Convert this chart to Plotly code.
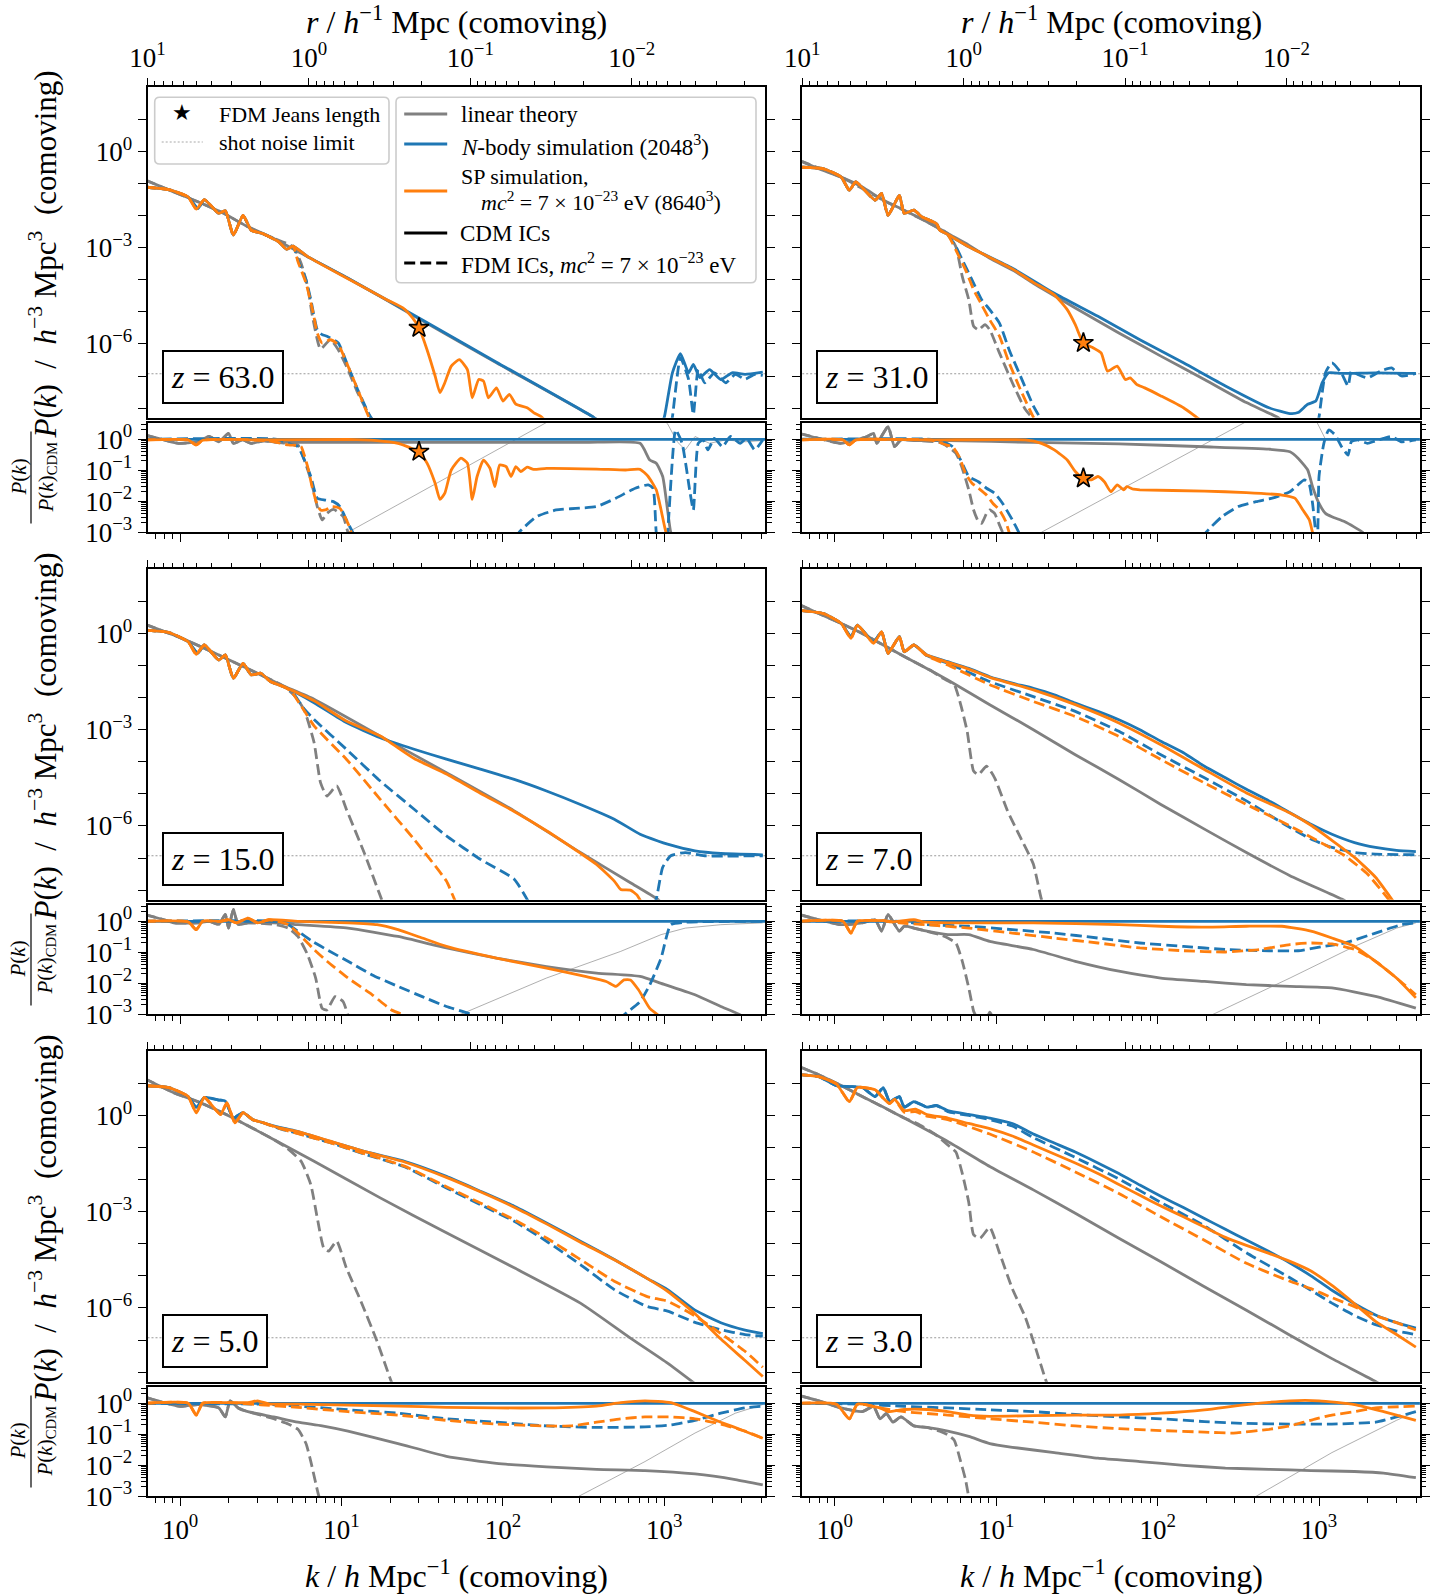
import plotly.graph_objects as go

W, H = 1451, 1595
FONT = "Liberation Serif"
GRAY, BLUE, ORANGE = "#808080", "#1f77b4", "#ff7f0e"

# ---------------- axis ranges / ticks (log10 units) ----------------
LGK_RANGE = [-0.202, 3.625]
LGP_RANGE = [-8.3, 2.0]
LGR_RANGE = [-3.0, 0.535]

K_TICKS = [1, 10, 100, 1000]
K_TICK_TEXT = ["10<sup>0</sup>", "10<sup>1</sup>", "10<sup>2</sup>", "10<sup>3</sup>"]
R_TICKS = [10, 1, 0.1, 0.01]          # r / h^-1 Mpc, r = 2*pi/k
R_TICK_TEXT = ["10<sup>1</sup>", "10<sup>0</sup>", "10<sup>−1</sup>", "10<sup>−2</sup>"]
P_TICK_EXP = list(range(-8, 2))
P_TICK_LABELS = {0: "10<sup>0</sup>", -3: "10<sup>−3</sup>", -6: "10<sup>−6</sup>"}
RATIO_TICKS = [1e-3, 1e-2, 1e-1, 1]
RATIO_TICK_TEXT = ["10<sup>−3</sup>", "10<sup>−2</sup>", "10<sup>−1</sup>", "10<sup>0</sup>"]

REDSHIFTS = ["63.0", "31.0", "15.0", "7.0", "5.0", "3.0"]
SHOT_NOISE_LGP = -6.93
JEANS_LGK = [1.48, 1.54, None, None, None, None]
JEANS_LGP = [-5.50, -5.97, None, None, None, None]
JEANS_LGR = [-0.40, -1.26, None, None, None, None]

# ---------------- data: (log10 k, log10 P); None = gap (curve leaves the panel) ----------------
# z = 63
P63_LIN = [(-0.22,-0.88),(-0.04,-1.26),(0.11,-1.57),(0.27,-1.93),(0.42,-2.35),(0.58,-2.71),(0.73,-3.12),(1.04,-3.95),(1.48,-5.22),(1.96,-6.59),(2.56,-8.28),(2.62,-8.5)]
P63_LINF = [(-0.22,-0.88),(-0.04,-1.26),(0.11,-1.57),(0.27,-1.93),(0.42,-2.35),(0.58,-2.71),(0.7,-2.97),(0.75,-3.49),(0.79,-4.21),(0.82,-5.14),(0.87,-6.16),(0.93,-5.87),(0.98,-6.18),(1.04,-6.8),(1.1,-7.52),(1.18,-8.28),(1.22,-8.5)]
P63_NB = [(-0.22,-1.11),(-0.07,-1.19),(0.05,-1.42),(0.11,-1.78),(0.15,-1.5),(0.24,-1.93),(0.28,-1.85),(0.33,-2.61),(0.39,-1.99),(0.44,-2.45),(0.51,-2.56),(0.61,-2.81),(0.66,-3.05),(0.7,-2.95),(0.79,-3.28),(1.04,-3.95),(1.48,-5.19),(1.96,-6.57),(2.56,-8.28),(2.62,-8.5),None,(2.98,-8.5),(3.0,-8.28),(3.05,-6.9),(3.1,-6.3),(3.15,-6.9),(3.18,-6.64),(3.22,-7.05),(3.28,-6.8),(3.35,-7.11),(3.42,-6.9),(3.5,-6.95),(3.61,-6.88)]
P63_NBF = [(-0.22,-1.11),(-0.07,-1.19),(0.05,-1.42),(0.11,-1.78),(0.15,-1.5),(0.24,-1.93),(0.28,-1.85),(0.33,-2.61),(0.39,-1.99),(0.44,-2.45),(0.51,-2.56),(0.61,-2.81),(0.66,-3.05),(0.7,-2.95),(0.73,-3.38),(0.78,-4.0),(0.81,-4.62),(0.85,-5.56),(0.88,-5.71),(0.91,-5.76),(0.98,-5.97),(1.04,-6.69),(1.1,-7.42),(1.18,-8.28),(1.22,-8.5),None,(3.04,-8.5),(3.05,-8.28),(3.1,-6.43),(3.15,-7.1),(3.18,-8.2),(3.21,-6.8),(3.25,-7.21),(3.31,-6.9),(3.38,-7.21),(3.44,-6.95),(3.5,-7.1),(3.56,-6.95),(3.61,-6.98)]
P63_SP = [(-0.22,-1.11),(-0.07,-1.19),(0.05,-1.42),(0.1,-1.8),(0.15,-1.5),(0.24,-1.93),(0.28,-1.85),(0.33,-2.61),(0.39,-1.99),(0.44,-2.45),(0.51,-2.56),(0.61,-2.81),(0.66,-3.05),(0.7,-2.95),(0.79,-3.28),(1.04,-3.97),(1.28,-4.62),(1.38,-4.88),(1.44,-5.19),(1.48,-5.5),(1.53,-6.18),(1.58,-7.0),(1.61,-7.52),(1.64,-7.21),(1.68,-6.69),(1.73,-6.49),(1.78,-6.8),(1.81,-7.68),(1.85,-7.11),(1.88,-7.16),(1.91,-7.68),(1.96,-7.37),(2.0,-7.78),(2.04,-7.57),(2.08,-7.88),(2.15,-7.99),(2.19,-8.14),(2.24,-8.28),(2.28,-8.5)]
P63_SPF = [(-0.22,-1.11),(-0.07,-1.19),(0.05,-1.42),(0.1,-1.8),(0.15,-1.5),(0.24,-1.93),(0.28,-1.85),(0.33,-2.61),(0.39,-1.99),(0.44,-2.45),(0.51,-2.56),(0.61,-2.81),(0.66,-3.05),(0.7,-2.95),(0.73,-3.43),(0.78,-4.1),(0.82,-4.93),(0.85,-5.66),(0.88,-5.97),(0.93,-5.87),(0.98,-6.02),(1.04,-6.69),(1.1,-7.42),(1.17,-8.28),(1.2,-8.5)]
R63_LIN = [(-0.22,0.14),(-0.1,-0.02),(-0.01,-0.13),(0.11,-0.08),(0.18,0.09),(0.24,-0.08),(0.3,0.19),(0.33,-0.13),(0.39,-0.02),(0.44,-0.13),(0.52,-0.05),(0.6,-0.1),(0.73,-0.1),(1.5,-0.1),(2.5,-0.1),(2.85,-0.13),(2.91,-0.67),(2.95,-0.77),(2.99,-1.2),(3.02,-2.28),(3.04,-3.0),(3.06,-3.2)]
R63_LINF = [(-0.22,0.14),(-0.1,-0.02),(-0.01,-0.13),(0.11,-0.08),(0.18,0.09),(0.24,-0.08),(0.3,0.19),(0.33,-0.13),(0.39,-0.02),(0.44,-0.13),(0.52,-0.05),(0.6,-0.1),(0.67,-0.13),(0.73,-0.18),(0.77,-0.67),(0.81,-1.31),(0.85,-2.17),(0.88,-2.6),(0.91,-2.39),(0.95,-2.26),(1.01,-2.49),(1.04,-3.0),(1.06,-3.2)]
R63_NBF = [(-0.22,0.0),(0.6,0.0),(0.67,-0.13),(0.73,-0.24),(0.77,-0.67),(0.81,-1.2),(0.85,-1.9),(0.9,-1.96),(0.95,-2.01),(0.99,-2.17),(1.04,-2.71),(1.07,-3.0),(1.09,-3.2),None,(2.08,-3.2),(2.1,-3.0),(2.21,-2.49),(2.33,-2.28),(2.45,-2.23),(2.58,-2.17),(2.7,-1.9),(2.82,-1.58),(2.9,-1.47),(2.93,-1.58),(2.95,-3.0),(2.96,-3.2),None,(3.01,-3.2),(3.02,-3.0),(3.07,0.3),(3.11,-0.13),(3.16,-1.74),(3.18,-2.28),(3.21,-0.13),(3.24,-0.02),(3.27,-0.34),(3.31,0.03),(3.36,-0.24),(3.41,0.09),(3.47,-0.13),(3.51,0.03),(3.56,-0.34),(3.61,-0.02)]
R63_SP = [(-0.22,-0.02),(0.05,-0.02),(0.1,-0.18),(0.14,-0.03),(0.3,0.0),(0.5,-0.02),(1.04,0.0),(1.22,-0.04),(1.35,-0.13),(1.42,-0.26),(1.48,-0.4),(1.53,-0.77),(1.58,-1.42),(1.61,-1.94),(1.64,-1.74),(1.68,-0.99),(1.74,-0.61),(1.78,-0.77),(1.81,-1.94),(1.84,-1.2),(1.88,-0.67),(1.92,-0.94),(1.95,-1.53),(1.98,-0.83),(2.02,-0.88),(2.05,-1.2),(2.08,-0.88),(2.11,-1.04),(2.15,-0.9),(2.19,-0.97),(2.27,-0.94),(2.58,-0.96),(2.76,-0.99),(2.85,-0.97),(2.9,-1.2),(2.95,-1.63),(2.98,-2.28),(3.01,-3.0),(3.03,-3.2)]
R63_SPF = [(-0.22,-0.02),(0.05,-0.02),(0.1,-0.18),(0.14,-0.03),(0.3,0.0),(0.55,-0.05),(0.67,-0.18),(0.73,-0.2),(0.75,-0.24),(0.79,-0.88),(0.82,-1.58),(0.85,-2.12),(0.87,-2.28),(0.9,-2.28),(0.94,-2.17),(0.99,-2.23),(1.04,-2.71),(1.06,-3.0),(1.08,-3.2)]
R63_SN = [(1.04,-3.0),(2.27,0.52),(2.29,0.6),None,(3.0,0.6),(3.02,0.5),(3.08,-0.08),(3.13,-0.34),(3.19,0.09),(3.28,-0.13),(3.38,-0.02),(3.5,-0.08),(3.61,-0.04)]

# z = 31
P31_LIN = [(-0.22,-0.28),(-0.1,-0.54),(0.04,-0.8),(0.17,-1.11),(0.3,-1.52),(0.43,-1.83),(0.57,-2.19),(0.7,-2.56),(0.83,-2.92),(0.96,-3.33),(1.12,-3.75),(1.23,-4.11),(1.49,-4.88),(1.76,-5.66),(2.02,-6.38),(2.29,-7.11),(2.55,-7.83),(2.74,-8.28),(2.8,-8.5)]
P31_LINF = [(-0.22,-0.28),(0.04,-0.8),(0.3,-1.52),(0.57,-2.19),(0.7,-2.56),(0.75,-2.97),(0.79,-3.9),(0.83,-4.62),(0.86,-5.45),(0.89,-5.56),(0.93,-5.4),(0.96,-5.56),(1.02,-6.28),(1.1,-7.21),(1.18,-8.04),(1.22,-8.28),(1.25,-8.5)]
P31_NB = [(-0.22,-0.49),(-0.07,-0.54),(0.04,-0.8),(0.09,-1.21),(0.13,-0.95),(0.25,-1.52),(0.29,-1.31),(0.33,-1.99),(0.4,-1.37),(0.43,-1.93),(0.49,-1.83),(0.54,-2.04),(0.63,-2.25),(0.65,-2.45),(0.69,-2.56),(0.83,-2.97),(1.1,-3.64),(1.36,-4.42),(1.63,-5.14),(1.89,-5.87),(2.16,-6.59),(2.42,-7.31),(2.69,-7.99),(2.82,-8.17),(2.87,-8.14),(2.93,-7.88),(2.98,-7.78),(3.02,-7.21),(3.06,-6.9),(3.14,-6.92),(3.35,-6.9),(3.6,-6.92)]
P31_NBF = [(-0.22,-0.49),(-0.07,-0.54),(0.04,-0.8),(0.09,-1.21),(0.13,-0.95),(0.25,-1.52),(0.29,-1.31),(0.33,-1.99),(0.4,-1.37),(0.43,-1.93),(0.49,-1.83),(0.54,-2.04),(0.63,-2.25),(0.65,-2.45),(0.7,-2.6),(0.75,-2.97),(0.79,-3.38),(0.85,-4.0),(0.91,-4.62),(0.96,-4.93),(1.02,-5.35),(1.08,-6.18),(1.15,-7.0),(1.23,-7.93),(1.27,-8.28),(1.3,-8.5),None,(2.99,-8.5),(3.0,-8.28),(3.04,-6.9),(3.08,-6.59),(3.14,-6.92),(3.18,-7.31),(3.2,-6.85),(3.24,-6.95),(3.3,-7.06),(3.38,-6.85),(3.45,-6.75),(3.51,-7.0),(3.6,-6.92)]
P31_SP = [(-0.22,-0.49),(-0.07,-0.54),(0.04,-0.8),(0.09,-1.21),(0.13,-0.95),(0.25,-1.52),(0.29,-1.31),(0.33,-1.99),(0.4,-1.37),(0.43,-1.93),(0.49,-1.83),(0.54,-2.04),(0.63,-2.25),(0.65,-2.45),(0.69,-2.56),(0.83,-2.97),(1.1,-3.66),(1.23,-4.08),(1.36,-4.47),(1.44,-4.93),(1.49,-5.4),(1.54,-5.97),(1.6,-6.12),(1.65,-6.28),(1.69,-6.85),(1.75,-6.69),(1.8,-7.11),(1.83,-7.06),(1.87,-7.26),(1.92,-7.37),(2.02,-7.62),(2.16,-7.99),(2.24,-8.28),(2.3,-8.5)]
P31_SPF = [(-0.22,-0.49),(-0.07,-0.54),(0.04,-0.8),(0.09,-1.21),(0.13,-0.95),(0.25,-1.52),(0.29,-1.31),(0.33,-1.99),(0.4,-1.37),(0.43,-1.93),(0.49,-1.83),(0.54,-2.04),(0.63,-2.25),(0.65,-2.45),(0.7,-2.6),(0.77,-3.28),(0.81,-3.69),(0.86,-4.31),(0.91,-4.78),(0.96,-5.25),(1.02,-5.76),(1.08,-6.59),(1.15,-7.42),(1.23,-8.28),(1.26,-8.5)]
R31_LIN = [(-0.22,0.19),(-0.1,0.03),(0.04,-0.13),(0.2,0.09),(0.24,0.19),(0.26,-0.13),(0.33,0.41),(0.37,-0.24),(0.41,-0.02),(0.5,-0.04),(0.7,-0.04),(1.23,-0.1),(1.76,-0.15),(2.29,-0.24),(2.69,-0.32),(2.82,-0.4),(2.87,-0.61),(2.93,-0.99),(2.96,-1.53),(3.0,-2.07),(3.04,-2.39),(3.08,-2.5),(3.16,-2.66),(3.27,-3.0),(3.3,-3.2)]
R31_LINF = [(-0.22,0.19),(-0.1,0.03),(0.04,-0.13),(0.2,0.09),(0.24,0.19),(0.26,-0.13),(0.33,0.41),(0.37,-0.24),(0.41,-0.02),(0.5,-0.04),(0.65,-0.1),(0.7,-0.24),(0.75,-0.45),(0.79,-0.94),(0.83,-1.63),(0.86,-2.28),(0.89,-2.66),(0.91,-2.71),(0.94,-2.39),(0.96,-2.28),(0.99,-2.39),(1.02,-2.76),(1.04,-3.0),(1.06,-3.2)]
R31_NBF = [(-0.22,0.0),(0.6,0.0),(0.67,-0.08),(0.73,-0.24),(0.78,-0.67),(0.83,-1.2),(0.89,-1.37),(0.94,-1.58),(0.99,-1.74),(1.04,-2.07),(1.1,-2.6),(1.14,-3.0),(1.16,-3.2),None,(2.28,-3.2),(2.3,-3.0),(2.4,-2.49),(2.5,-2.17),(2.61,-2.01),(2.71,-1.9),(2.82,-1.69),(2.91,-1.31),(2.94,-1.47),(2.96,-2.07),(2.98,-3.0),(2.99,-3.2),(3.0,-1.2),(3.03,-0.13),(3.06,0.3),(3.1,0.14),(3.14,-0.24),(3.18,-0.51),(3.2,-0.08),(3.24,-0.02),(3.3,-0.13),(3.35,-0.05),(3.4,0.03),(3.45,0.09),(3.51,-0.08),(3.6,-0.02)]
R31_SP = [(-0.22,-0.02),(0.05,-0.02),(0.09,-0.18),(0.13,-0.02),(0.3,0.0),(0.6,-0.02),(1.18,-0.02),(1.28,-0.13),(1.36,-0.34),(1.44,-0.67),(1.49,-1.04),(1.54,-1.26),(1.59,-1.31),(1.63,-1.2),(1.67,-1.37),(1.71,-1.69),(1.75,-1.47),(1.79,-1.63),(1.81,-1.53),(1.85,-1.61),(1.89,-1.63),(2.29,-1.67),(2.55,-1.72),(2.77,-1.8),(2.85,-1.9),(2.9,-2.28),(2.94,-2.6),(2.96,-3.0),(2.98,-3.2)]
R31_SPF = [(-0.22,-0.02),(0.05,-0.02),(0.09,-0.18),(0.13,-0.02),(0.3,0.0),(0.6,-0.03),(0.69,-0.18),(0.73,-0.24),(0.77,-0.56),(0.81,-1.1),(0.85,-1.42),(0.89,-1.58),(0.94,-1.8),(0.98,-2.07),(1.02,-2.28),(1.06,-2.66),(1.08,-3.0),(1.1,-3.2)]
R31_SN = [(1.28,-3.0),(2.54,0.52),(2.56,0.6),None,(2.97,0.6),(2.99,0.52),(3.04,0.0),(3.2,-0.02),(3.4,0.0),(3.6,-0.02)]

# z = 15
P15_LIN = [(-0.22,0.29),(0.0,-0.13),(0.21,-0.6),(0.42,-1.1),(0.62,-1.59),(0.83,-2.05),(1.24,-3.2),(1.65,-4.34),(2.07,-5.53),(2.48,-6.83),(2.79,-7.77),(2.96,-8.29),(2.99,-8.45)]
P15_LINF = [(-0.22,0.29),(0.0,-0.13),(0.21,-0.6),(0.42,-1.1),(0.64,-1.64),(0.72,-2.0),(0.77,-2.4),(0.83,-3.4),(0.87,-4.65),(0.91,-5.07),(0.97,-4.75),(1.03,-5.48),(1.14,-6.83),(1.24,-8.18),(1.26,-8.45)]
P15_NB = [(-0.22,0.1),(-0.07,0.03),(0.05,-0.26),(0.11,-0.62),(0.15,-0.36),(0.24,-0.83),(0.28,-0.67),(0.33,-1.4),(0.39,-0.93),(0.44,-1.29),(0.5,-1.24),(0.56,-1.5),(0.65,-1.68),(0.83,-2.16),(1.03,-2.78),(1.24,-3.25),(1.45,-3.61),(1.65,-3.92),(1.86,-4.23),(2.07,-4.55),(2.27,-4.91),(2.48,-5.33),(2.69,-5.79),(2.85,-6.26),(2.96,-6.47),(3.02,-6.57),(3.19,-6.78),(3.35,-6.86),(3.61,-6.9)]
P15_NBF = [(-0.22,0.1),(-0.07,0.03),(0.05,-0.26),(0.11,-0.62),(0.15,-0.36),(0.24,-0.83),(0.28,-0.67),(0.33,-1.4),(0.39,-0.93),(0.44,-1.29),(0.5,-1.24),(0.56,-1.5),(0.65,-1.68),(0.69,-1.8),(0.77,-2.36),(0.83,-2.68),(1.03,-3.61),(1.24,-4.6),(1.45,-5.48),(1.65,-6.31),(1.86,-7.04),(2.07,-7.66),(2.15,-8.29),(2.17,-8.5),None,(2.93,-8.5),(2.95,-8.28),(2.99,-7.29),(3.04,-6.93),(3.13,-6.83),(3.25,-6.93),(3.61,-6.93)]
P15_SP = [(-0.22,0.1),(-0.07,0.03),(0.05,-0.26),(0.1,-0.65),(0.15,-0.36),(0.24,-0.83),(0.28,-0.67),(0.33,-1.4),(0.39,-0.93),(0.44,-1.29),(0.5,-1.24),(0.56,-1.5),(0.65,-1.68),(0.83,-2.1),(1.03,-2.73),(1.24,-3.2),(1.45,-3.9),(1.65,-4.38),(1.86,-4.98),(2.07,-5.55),(2.27,-6.15),(2.48,-6.85),(2.58,-7.2),(2.69,-7.72),(2.73,-7.98),(2.79,-8.0),(2.83,-8.15),(2.86,-8.4)]
P15_SPF = [(-0.22,0.1),(-0.07,0.03),(0.05,-0.26),(0.1,-0.65),(0.15,-0.36),(0.24,-0.83),(0.28,-0.67),(0.33,-1.4),(0.39,-0.93),(0.44,-1.29),(0.5,-1.24),(0.56,-1.5),(0.65,-1.68),(0.69,-1.82),(0.77,-2.42),(0.83,-2.88),(1.03,-3.92),(1.24,-5.17),(1.45,-6.42),(1.65,-7.72),(1.7,-8.29),(1.72,-8.5)]
R15_LIN = [(-0.22,0.22),(-0.1,0.05),(-0.04,-0.05),(0.11,-0.05),(0.18,0.0),(0.24,-0.1),(0.28,0.22),(0.3,-0.22),(0.33,0.38),(0.36,-0.1),(0.42,-0.05),(0.58,-0.05),(0.73,-0.11),(1.04,-0.22),(1.35,-0.49),(1.65,-0.86),(1.96,-1.19),(2.27,-1.46),(2.58,-1.67),(2.85,-1.78),(2.98,-2.0),(3.19,-2.37),(3.35,-2.75),(3.47,-3.02),(3.5,-3.2)]
R15_LINF = [(-0.22,0.22),(-0.1,0.05),(-0.04,-0.05),(0.11,-0.05),(0.18,0.0),(0.24,-0.1),(0.28,0.22),(0.3,-0.22),(0.33,0.38),(0.36,-0.1),(0.42,-0.05),(0.58,-0.1),(0.67,-0.22),(0.73,-0.49),(0.79,-1.08),(0.84,-1.83),(0.88,-2.81),(0.91,-2.86),(0.96,-2.43),(1.01,-2.59),(1.04,-3.02),(1.06,-3.2)]
R15_NBF = [(-0.22,0.0),(0.6,0.0),(0.67,-0.11),(0.73,-0.32),(0.82,-0.65),(0.91,-0.92),(1.04,-1.29),(1.19,-1.73),(1.35,-2.1),(1.5,-2.43),(1.65,-2.75),(1.81,-3.02),(1.84,-3.2),None,(2.72,-3.2),(2.75,-3.02),(2.85,-2.59),(2.91,-2.05),(2.98,-1.19),(3.04,-0.11),(3.13,-0.03),(3.61,0.0)]
R15_SP = [(-0.22,0.0),(0.05,-0.02),(0.1,-0.27),(0.14,0.0),(0.25,0.0),(0.3,0.05),(0.35,-0.05),(0.42,0.1),(0.48,-0.05),(0.55,0.05),(0.73,0.0),(1.04,-0.05),(1.22,-0.11),(1.35,-0.27),(1.5,-0.54),(1.65,-0.81),(1.96,-1.19),(2.27,-1.51),(2.51,-1.78),(2.64,-1.94),(2.7,-2.1),(2.75,-1.89),(2.79,-1.89),(2.84,-2.21),(2.91,-2.81),(2.96,-3.02),(2.98,-3.2)]
R15_SPF = [(-0.22,0.0),(0.05,-0.02),(0.1,-0.27),(0.14,0.0),(0.25,0.0),(0.3,0.05),(0.35,-0.05),(0.42,0.1),(0.48,-0.05),(0.55,0.05),(0.67,-0.11),(0.73,-0.38),(0.82,-0.86),(0.91,-1.29),(1.04,-1.83),(1.19,-2.37),(1.31,-2.86),(1.38,-3.02),(1.41,-3.2)]
R15_SN = [(1.73,-3.02),(2.27,-1.83),(2.73,-0.97),(2.98,-0.43),(3.13,-0.22),(3.35,-0.11),(3.61,-0.05)]

# z = 7
P7_LIN = [(-0.22,0.9),(-0.1,0.62),(0.04,0.31),(0.17,0.0),(0.3,-0.36),(0.43,-0.72),(0.57,-1.09),(0.7,-1.45),(0.96,-2.22),(1.23,-3.0),(1.49,-3.78),(1.76,-4.55),(2.02,-5.33),(2.29,-6.1),(2.55,-6.83),(2.82,-7.55),(3.14,-8.28),(3.2,-8.45)]
P7_LINF = [(-0.22,0.9),(-0.1,0.62),(0.04,0.31),(0.17,0.0),(0.3,-0.36),(0.43,-0.72),(0.59,-1.14),(0.67,-1.4),(0.74,-1.6),(0.78,-2.22),(0.82,-3.05),(0.86,-4.29),(0.89,-4.4),(0.94,-4.14),(0.99,-4.5),(1.07,-5.53),(1.15,-6.36),(1.23,-7.19),(1.28,-8.28),(1.3,-8.5)]
P7_NB = [(-0.22,0.72),(-0.07,0.62),(0.04,0.31),(0.1,-0.1),(0.14,0.26),(0.24,-0.26),(0.29,0.05),(0.33,-0.62),(0.4,-0.1),(0.43,-0.57),(0.49,-0.36),(0.57,-0.67),(0.7,-0.88),(0.83,-1.09),(0.96,-1.35),(1.1,-1.55),(1.23,-1.71),(1.36,-1.91),(1.49,-2.17),(1.63,-2.43),(1.76,-2.69),(1.89,-3.0),(2.02,-3.36),(2.16,-3.72),(2.29,-4.14),(2.42,-4.5),(2.55,-4.86),(2.69,-5.22),(2.82,-5.59),(2.95,-5.95),(3.08,-6.26),(3.22,-6.52),(3.35,-6.67),(3.48,-6.76),(3.6,-6.8)]
P7_NBF = [(-0.22,0.72),(-0.07,0.62),(0.04,0.31),(0.1,-0.1),(0.14,0.26),(0.24,-0.26),(0.29,0.05),(0.33,-0.62),(0.4,-0.1),(0.43,-0.57),(0.49,-0.36),(0.57,-0.69),(0.7,-0.93),(0.96,-1.5),(1.23,-1.97),(1.49,-2.43),(1.76,-3.05),(2.02,-3.78),(2.29,-4.5),(2.55,-5.22),(2.82,-6.05),(2.95,-6.41),(3.08,-6.67),(3.22,-6.83),(3.35,-6.88),(3.6,-6.9)]
P7_SP = [(-0.22,0.72),(-0.07,0.62),(0.04,0.31),(0.1,-0.15),(0.14,0.26),(0.24,-0.3),(0.29,0.05),(0.33,-0.62),(0.4,-0.1),(0.43,-0.57),(0.49,-0.36),(0.57,-0.67),(0.7,-0.9),(0.83,-1.11),(0.96,-1.37),(1.1,-1.57),(1.23,-1.76),(1.49,-2.22),(1.76,-2.79),(2.02,-3.47),(2.29,-4.24),(2.55,-4.97),(2.82,-5.6),(2.95,-5.98),(3.08,-6.45),(3.22,-6.98),(3.35,-7.6),(3.45,-8.28),(3.48,-8.5)]
P7_SPF = [(-0.22,0.72),(-0.07,0.62),(0.04,0.31),(0.1,-0.15),(0.14,0.26),(0.24,-0.3),(0.29,0.05),(0.33,-0.62),(0.4,-0.1),(0.43,-0.57),(0.49,-0.36),(0.57,-0.7),(0.7,-0.98),(0.96,-1.6),(1.23,-2.12),(1.49,-2.59),(1.76,-3.21),(2.02,-3.93),(2.29,-4.66),(2.55,-5.33),(2.82,-6.0),(3.03,-6.57),(3.16,-6.93),(3.3,-7.5),(3.43,-8.28),(3.46,-8.5)]
R7_LIN = [(-0.22,0.22),(-0.1,0.05),(0.04,-0.11),(0.17,-0.05),(0.25,0.05),(0.29,-0.32),(0.33,0.22),(0.4,-0.32),(0.43,-0.16),(0.49,-0.22),(0.57,-0.32),(0.7,-0.43),(0.83,-0.43),(0.96,-0.65),(1.23,-0.91),(1.49,-1.29),(1.76,-1.61),(2.02,-1.83),(2.29,-1.94),(2.55,-2.04),(2.82,-2.1),(3.08,-2.15),(3.35,-2.42),(3.6,-2.8)]
R7_LINF = [(-0.22,0.22),(-0.1,0.05),(0.04,-0.11),(0.17,-0.05),(0.25,0.05),(0.29,-0.32),(0.33,0.22),(0.4,-0.32),(0.43,-0.16),(0.49,-0.22),(0.57,-0.32),(0.65,-0.43),(0.7,-0.54),(0.75,-0.7),(0.79,-1.29),(0.83,-2.15),(0.86,-2.9),(0.87,-3.01),(0.89,-3.2),None,(0.945,-3.1),(0.96,-2.93),(0.98,-3.1)]
R7_NBF = [(-0.22,0.0),(0.4,0.0),(0.57,-0.11),(0.83,-0.16),(1.1,-0.27),(1.36,-0.38),(1.63,-0.54),(1.89,-0.7),(2.16,-0.81),(2.42,-0.91),(2.69,-0.95),(2.87,-0.95),(3.03,-0.81),(3.16,-0.7),(3.35,-0.38),(3.51,-0.11),(3.6,-0.05)]
R7_SP = [(-0.22,0.0),(0.05,0.0),(0.1,-0.38),(0.14,0.0),(0.3,0.02),(0.35,-0.02),(0.49,0.05),(0.55,-0.02),(0.7,-0.05),(1.23,-0.05),(1.76,-0.11),(2.02,-0.16),(2.29,-0.19),(2.55,-0.16),(2.77,-0.16),(2.95,-0.32),(3.08,-0.54),(3.22,-0.81),(3.35,-1.29),(3.48,-1.83),(3.6,-2.47)]
R7_SPF = [(-0.22,0.0),(0.05,0.0),(0.1,-0.38),(0.14,0.0),(0.3,0.02),(0.4,-0.05),(0.57,-0.11),(0.83,-0.22),(1.1,-0.38),(1.36,-0.54),(1.63,-0.7),(1.89,-0.86),(2.16,-0.95),(2.42,-0.99),(2.63,-0.91),(2.82,-0.75),(2.95,-0.7),(3.08,-0.73),(3.22,-0.91),(3.35,-1.29),(3.48,-1.83),(3.6,-2.37)]
R7_SN = [(2.34,-3.01),(2.82,-1.83),(3.22,-0.81),(3.48,-0.22),(3.6,-0.05)]

# z = 5
P5_LIN = [(-0.22,1.15),(-0.04,0.71),(0.11,0.43),(0.31,-0.03),(0.58,-0.75),(0.83,-1.43),(1.24,-2.57),(1.65,-3.66),(2.07,-4.75),(2.48,-5.85),(2.79,-6.94),(3.02,-7.72),(3.2,-8.4)]
P5_LINF = [(-0.22,1.15),(-0.04,0.71),(0.11,0.43),(0.31,-0.03),(0.58,-0.75),(0.66,-1.01),(0.75,-1.43),(0.81,-2.16),(0.85,-3.2),(0.89,-4.13),(0.92,-4.23),(0.97,-3.92),(1.03,-4.75),(1.12,-5.79),(1.22,-7.04),(1.3,-8.18),(1.32,-8.45)]
P5_NB = [(-0.22,0.93),(-0.07,0.87),(0.05,0.59),(0.1,0.25),(0.15,0.56),(0.24,0.48),(0.28,0.45),(0.33,-0.08),(0.39,0.09),(0.45,-0.13),(0.51,-0.22),(0.61,-0.36),(0.72,-0.49),(0.93,-0.81),(1.14,-1.12),(1.39,-1.43),(1.65,-1.9),(1.86,-2.36),(2.07,-2.83),(2.27,-3.35),(2.48,-3.92),(2.69,-4.49),(2.89,-5.07),(3.02,-5.43),(3.19,-6.07),(3.35,-6.46),(3.5,-6.69),(3.61,-6.8)]
P5_NBF = [(-0.22,0.93),(-0.07,0.87),(0.05,0.59),(0.1,0.25),(0.15,0.56),(0.24,0.48),(0.28,0.45),(0.33,-0.08),(0.39,0.09),(0.45,-0.13),(0.51,-0.22),(0.61,-0.4),(0.73,-0.56),(0.93,-0.85),(1.14,-1.2),(1.39,-1.6),(1.65,-2.26),(1.86,-2.78),(2.07,-3.3),(2.27,-3.92),(2.48,-4.65),(2.69,-5.43),(2.89,-5.95),(3.02,-6.1),(3.19,-6.45),(3.35,-6.68),(3.5,-6.83),(3.61,-6.88)]
P5_SP = [(-0.22,0.93),(-0.07,0.87),(0.05,0.59),(0.1,0.08),(0.15,0.56),(0.25,0.03),(0.29,0.39),(0.34,-0.23),(0.39,0.09),(0.45,-0.13),(0.51,-0.22),(0.61,-0.38),(0.73,-0.5),(0.93,-0.8),(1.14,-1.12),(1.39,-1.45),(1.65,-1.93),(1.86,-2.38),(2.07,-2.86),(2.27,-3.38),(2.48,-3.95),(2.69,-4.5),(2.89,-5.07),(3.02,-5.48),(3.19,-6.18),(3.35,-6.97),(3.5,-7.64),(3.61,-8.14)]
P5_SPF = [(-0.22,0.93),(-0.07,0.87),(0.05,0.59),(0.1,0.08),(0.15,0.56),(0.25,0.03),(0.29,0.39),(0.34,-0.23),(0.39,0.09),(0.45,-0.13),(0.51,-0.22),(0.61,-0.4),(0.73,-0.57),(0.93,-0.85),(1.14,-1.19),(1.39,-1.58),(1.65,-2.22),(1.86,-2.73),(2.07,-3.25),(2.27,-3.82),(2.48,-4.49),(2.69,-5.17),(2.89,-5.64),(3.02,-5.79),(3.19,-6.25),(3.35,-6.8),(3.5,-7.35),(3.61,-7.85)]
R5_LIN = [(-0.22,0.2),(-0.1,0.02),(0.0,-0.1),(0.11,-0.04),(0.24,-0.15),(0.28,-0.44),(0.31,0.08),(0.36,-0.15),(0.42,-0.27),(0.58,-0.44),(0.73,-0.61),(0.88,-0.73),(1.04,-0.9),(1.35,-1.3),(1.65,-1.71),(1.96,-1.94),(2.27,-2.05),(2.58,-2.13),(2.88,-2.17),(3.19,-2.28),(3.44,-2.46),(3.61,-2.63)]
R5_LINF = [(-0.22,0.2),(-0.1,0.02),(0.0,-0.1),(0.11,-0.04),(0.24,-0.15),(0.28,-0.44),(0.31,0.08),(0.36,-0.15),(0.42,-0.27),(0.58,-0.5),(0.67,-0.67),(0.73,-0.84),(0.78,-1.3),(0.81,-1.88),(0.84,-2.57),(0.86,-3.0),(0.88,-3.2)]
R5_NBF = [(-0.22,0.0),(0.5,-0.03),(0.73,-0.09),(1.04,-0.21),(1.35,-0.32),(1.65,-0.5),(1.96,-0.61),(2.27,-0.73),(2.58,-0.78),(2.88,-0.76),(3.04,-0.7),(3.19,-0.55),(3.35,-0.32),(3.5,-0.15),(3.61,-0.09)]
R5_SP = [(-0.22,0.0),(0.05,0.0),(0.1,-0.38),(0.14,0.0),(0.3,0.02),(0.42,0.02),(0.48,0.08),(0.55,-0.02),(0.73,-0.03),(1.04,-0.06),(1.35,-0.09),(1.65,-0.13),(1.96,-0.15),(2.27,-0.15),(2.58,-0.09),(2.73,0.02),(2.88,0.08),(3.04,0.02),(3.19,-0.27),(3.35,-0.61),(3.5,-0.9),(3.61,-1.13)]
R5_SPF = [(-0.22,0.0),(0.05,0.0),(0.1,-0.38),(0.14,0.0),(0.3,0.02),(0.5,-0.05),(0.73,-0.13),(1.04,-0.27),(1.35,-0.38),(1.65,-0.55),(1.96,-0.67),(2.27,-0.73),(2.42,-0.73),(2.58,-0.61),(2.73,-0.5),(2.88,-0.44),(3.04,-0.44),(3.19,-0.5),(3.35,-0.67),(3.5,-0.9),(3.61,-1.13)]
R5_SN = [(2.47,-3.0),(2.88,-1.88),(3.19,-0.96),(3.44,-0.32),(3.61,-0.04)]

# z = 3
P3_LIN = [(-0.22,1.52),(-0.1,1.27),(0.04,0.93),(0.17,0.59),(0.3,0.26),(0.43,-0.08),(0.7,-0.81),(0.96,-1.59),(1.23,-2.32),(1.49,-3.05),(1.76,-3.83),(2.02,-4.56),(2.29,-5.34),(2.55,-6.07),(2.82,-6.85),(3.08,-7.58),(3.35,-8.29),(3.4,-8.45)]
P3_LINF = [(-0.22,1.52),(-0.1,1.27),(0.04,0.93),(0.17,0.59),(0.3,0.26),(0.43,-0.08),(0.51,-0.25),(0.62,-0.58),(0.7,-0.92),(0.75,-1.14),(0.79,-1.81),(0.83,-2.71),(0.86,-3.72),(0.9,-3.83),(0.96,-3.49),(1.02,-4.28),(1.1,-5.4),(1.18,-6.29),(1.24,-7.19),(1.31,-8.29),(1.33,-8.5)]
P3_NB = [(-0.22,1.27),(-0.1,1.21),(0.01,0.93),(0.09,0.9),(0.17,0.87),(0.25,0.59),(0.3,0.87),(0.34,0.43),(0.4,0.59),(0.43,0.26),(0.49,0.43),(0.57,0.26),(0.63,0.31),(0.7,0.15),(0.83,0.03),(0.96,-0.08),(1.1,-0.25),(1.23,-0.58),(1.36,-0.86),(1.49,-1.14),(1.63,-1.48),(1.76,-1.81),(1.89,-2.17),(2.02,-2.52),(2.16,-2.87),(2.29,-3.21),(2.42,-3.55),(2.55,-3.88),(2.69,-4.24),(2.82,-4.6),(2.95,-5.0),(3.08,-5.45),(3.22,-5.87),(3.35,-6.22),(3.48,-6.46),(3.6,-6.63)]
P3_NBF = [(-0.22,1.27),(-0.1,1.21),(0.01,0.93),(0.09,0.9),(0.17,0.87),(0.25,0.59),(0.3,0.87),(0.34,0.43),(0.4,0.59),(0.43,0.26),(0.49,0.43),(0.57,0.26),(0.63,0.31),(0.7,0.12),(0.83,0.0),(0.96,-0.13),(1.1,-0.33),(1.23,-0.69),(1.49,-1.31),(1.76,-1.98),(2.02,-2.71),(2.29,-3.44),(2.55,-4.28),(2.82,-5.06),(2.95,-5.45),(3.08,-5.85),(3.22,-6.24),(3.35,-6.52),(3.48,-6.72),(3.6,-6.83)]
P3_SP = [(-0.22,1.27),(-0.1,1.21),(0.01,0.98),(0.09,0.43),(0.14,0.87),(0.25,0.8),(0.3,0.54),(0.34,0.37),(0.37,0.5),(0.43,0.15),(0.5,0.2),(0.57,0.03),(0.7,-0.08),(0.83,-0.25),(0.96,-0.41),(1.1,-0.64),(1.23,-0.92),(1.36,-1.2),(1.49,-1.48),(1.63,-1.81),(1.76,-2.15),(1.89,-2.49),(2.02,-2.82),(2.16,-3.16),(2.29,-3.48),(2.42,-3.8),(2.55,-4.05),(2.69,-4.3),(2.82,-4.55),(2.95,-4.85),(3.08,-5.3),(3.22,-5.87),(3.35,-6.42),(3.48,-6.83),(3.6,-7.22)]
P3_SPF = [(-0.22,1.27),(-0.1,1.21),(0.01,0.98),(0.09,0.43),(0.14,0.87),(0.25,0.8),(0.3,0.54),(0.34,0.37),(0.37,0.5),(0.43,0.1),(0.5,0.12),(0.57,-0.02),(0.7,-0.13),(0.96,-0.58),(1.23,-1.14),(1.49,-1.76),(1.76,-2.43),(2.02,-3.16),(2.29,-3.89),(2.55,-4.61),(2.82,-5.17),(2.95,-5.4),(3.08,-5.68),(3.22,-5.96),(3.35,-6.24),(3.48,-6.46),(3.6,-6.69)]
R3_LIN = [(-0.22,0.25),(-0.1,0.08),(0.04,-0.15),(0.17,-0.27),(0.24,-0.1),(0.28,-0.5),(0.32,-0.33),(0.36,-0.61),(0.41,-0.44),(0.49,-0.73),(0.57,-0.78),(0.7,-0.9),(0.83,-1.07),(0.96,-1.3),(1.1,-1.42),(1.36,-1.59),(1.63,-1.77),(1.89,-1.88),(2.16,-2.0),(2.42,-2.09),(2.69,-2.13),(2.95,-2.17),(3.22,-2.2),(3.4,-2.25),(3.6,-2.4)]
R3_LINF = [(-0.22,0.25),(-0.1,0.08),(0.04,-0.15),(0.17,-0.27),(0.24,-0.1),(0.28,-0.5),(0.32,-0.33),(0.36,-0.61),(0.41,-0.44),(0.49,-0.73),(0.57,-0.78),(0.65,-0.9),(0.7,-1.02),(0.74,-1.19),(0.78,-1.88),(0.81,-2.46),(0.83,-3.0),(0.85,-3.2)]
R3_NBF = [(-0.22,0.0),(0.17,-0.03),(0.43,-0.1),(0.7,-0.15),(0.96,-0.21),(1.23,-0.27),(1.49,-0.36),(1.76,-0.44),(2.02,-0.5),(2.29,-0.59),(2.55,-0.65),(2.82,-0.67),(3.08,-0.67),(3.35,-0.61),(3.48,-0.44),(3.6,-0.27)]
R3_SP = [(-0.22,0.0),(0.01,-0.03),(0.09,-0.5),(0.14,-0.03),(0.28,-0.15),(0.33,-0.27),(0.43,-0.2),(0.57,-0.2),(0.7,-0.27),(0.83,-0.38),(0.96,-0.42),(1.23,-0.4),(1.49,-0.38),(1.76,-0.38),(2.02,-0.32),(2.29,-0.21),(2.55,-0.04),(2.82,0.08),(3.0,0.08),(3.22,-0.04),(3.4,-0.27),(3.6,-0.55)]
R3_SPF = [(-0.22,0.0),(0.01,-0.03),(0.09,-0.5),(0.14,-0.03),(0.28,-0.15),(0.43,-0.27),(0.7,-0.38),(0.96,-0.5),(1.23,-0.61),(1.49,-0.73),(1.76,-0.82),(2.02,-0.88),(2.29,-0.93),(2.47,-0.96),(2.69,-0.84),(2.82,-0.73),(2.98,-0.5),(3.08,-0.38),(3.22,-0.27),(3.35,-0.15),(3.6,-0.09)]
R3_SN = [(2.61,-3.0),(3.08,-1.59),(3.48,-0.55),(3.6,-0.27)]

R_NB = [(-0.22,0.0),(3.63,0.0)]   # N-body CDM ratio to itself

# ---------------- geometry (pixels) ----------------
COL_PX = [(147.5, 765.2), (802.2, 1419.9)]
ROW_TOP_PX = [87.3, 569.3, 1051.3]
MAIN_H, GAP, RATIO_H = 330.4, 5.0, 109.6

PANELS = [
    dict(main=[P63_LIN, P63_LINF, P63_NB, P63_NBF, P63_SP, P63_SPF], ratio=[R63_LIN, R63_LINF, R_NB, R63_NBF, R63_SP, R63_SPF], sn=R63_SN),
    dict(main=[P31_LIN, P31_LINF, P31_NB, P31_NBF, P31_SP, P31_SPF], ratio=[R31_LIN, R31_LINF, R_NB, R31_NBF, R31_SP, R31_SPF], sn=R31_SN),
    dict(main=[P15_LIN, P15_LINF, P15_NB, P15_NBF, P15_SP, P15_SPF], ratio=[R15_LIN, R15_LINF, R_NB, R15_NBF, R15_SP, R15_SPF], sn=R15_SN),
    dict(main=[P7_LIN, P7_LINF, P7_NB, P7_NBF, P7_SP, P7_SPF], ratio=[R7_LIN, R7_LINF, R_NB, R7_NBF, R7_SP, R7_SPF], sn=R7_SN),
    dict(main=[P5_LIN, P5_LINF, P5_NB, P5_NBF, P5_SP, P5_SPF], ratio=[R5_LIN, R5_LINF, R_NB, R5_NBF, R5_SP, R5_SPF], sn=R5_SN),
    dict(main=[P3_LIN, P3_LINF, P3_NB, P3_NBF, P3_SP, P3_SPF], ratio=[R3_LIN, R3_LINF, R_NB, R3_NBF, R3_SP, R3_SPF], sn=R3_SN),
]
STYLES = [(GRAY, "solid"), (GRAY, "11px,5px"), (BLUE, "solid"), (BLUE, "11px,5px"), (ORANGE, "solid"), (ORANGE, "11px,5px")]


def axkey(letter, n):
    return f"{letter}axis" if n == 1 else f"{letter}axis{n}"


def axref(letter, n):
    return letter if n == 1 else f"{letter}{n}"


def px_x(px):
    return px / W


def px_y(py):
    return 1 - py / H


def xy(pts):
    xs, ys = [], []
    for p in pts:
        if p is None:
            xs.append(None)
            ys.append(None)
        else:
            xs.append(10 ** p[0])
            ys.append(10 ** p[1])
    return xs, ys


TWO_PI = 6.283185307179586
R_MINOR = [m * 10 ** d for d in range(-3, 1) for m in range(2, 10)]
K_MINOR = [m * 10 ** d for d in range(-1, 4) for m in range(2, 10)]
RATIO_MINOR = [m * 10 ** d for d in range(-3, 1) for m in range(2, 10)]

fig = go.Figure()
layout = dict(
    width=W, height=H, margin=dict(l=0, r=0, t=0, b=0, pad=0, autoexpand=False),
    paper_bgcolor="white", plot_bgcolor="white", showlegend=False,
    font=dict(family=FONT, size=27, color="black"),
)

common_axis = dict(showline=True, linecolor="black", linewidth=1.6, ticks="outside",
                   ticklen=8, tickwidth=1.3, tickcolor="black", showgrid=False,
                   zeroline=False, automargin=False,
                   tickfont=dict(family=FONT, size=27, color="black"))
minor_style = dict(ticks="outside", ticklen=4.5, tickwidth=1.0, tickcolor="black", showgrid=False)

annotations = []
shapes = []

for i, pan in enumerate(PANELS):
    r, c = divmod(i, 2)
    xl, xr = COL_PX[c]
    top = ROW_TOP_PX[r]
    m, q = 2 * i + 1, 2 * i + 2

    layout[axkey("x", m)] = dict(common_axis, type="log", range=LGK_RANGE, domain=[px_x(xl), px_x(xr)],
                                  anchor=axref("y", m), side="top", mirror=True,
                                  tickmode="array", tickvals=[TWO_PI / v for v in R_TICKS],
                                  ticktext=R_TICK_TEXT, showticklabels=(r == 0),
                                  minor=dict(minor_style, tickmode="array", tickvals=[TWO_PI / v for v in R_MINOR]))
    layout[axkey("y", m)] = dict(common_axis, type="log", range=LGP_RANGE,
                                  domain=[px_y(top + MAIN_H), px_y(top)], anchor=axref("x", m),
                                  mirror="allticks", tickmode="array",
                                  tickvals=[10.0 ** e for e in P_TICK_EXP],
                                  ticktext=[P_TICK_LABELS.get(e, "") for e in P_TICK_EXP],
                                  showticklabels=(c == 0))
    rt = top + MAIN_H + GAP
    layout[axkey("x", q)] = dict(common_axis, type="log", range=LGK_RANGE, domain=[px_x(xl), px_x(xr)],
                                  anchor=axref("y", q), side="bottom", mirror=True,
                                  tickmode="array", tickvals=K_TICKS, ticktext=K_TICK_TEXT,
                                  showticklabels=(r == 2),
                                  minor=dict(minor_style, tickmode="array", tickvals=K_MINOR))
    layout[axkey("y", q)] = dict(common_axis, type="log", range=LGR_RANGE,
                                  domain=[px_y(rt + RATIO_H), px_y(rt)], anchor=axref("x", q),
                                  mirror="allticks", tickmode="array", tickvals=RATIO_TICKS,
                                  ticktext=RATIO_TICK_TEXT, showticklabels=(c == 0),
                                  minor=dict(minor_style, tickmode="array", tickvals=RATIO_MINOR))

    # shot noise limit (main) and its ratio (ratio panel)
    fig.add_trace(go.Scatter(x=[10 ** LGK_RANGE[0], 10 ** LGK_RANGE[1]], y=[10 ** SHOT_NOISE_LGP] * 2,
                             mode="lines", line=dict(color="#9a9a9a", width=1, dash="2px,2px"),
                             xaxis=axref("x", m), yaxis=axref("y", m), hoverinfo="skip"))
    sx, sy = xy(pan["sn"])
    fig.add_trace(go.Scatter(x=sx, y=sy, mode="lines", line=dict(color="#8c8c8c", width=0.7),
                             connectgaps=False, xaxis=axref("x", q), yaxis=axref("y", q), hoverinfo="skip"))

    for pts, (col, dash) in zip(pan["main"], STYLES):
        x, y = xy(pts)
        fig.add_trace(go.Scatter(x=x, y=y, mode="lines",
                                 line=dict(color=col, width=2.8, dash=dash, shape="spline", smoothing=0.5),
                                 connectgaps=False, xaxis=axref("x", m), yaxis=axref("y", m), hoverinfo="skip"))
    for pts, (col, dash) in zip(pan["ratio"], STYLES):
        x, y = xy(pts)
        fig.add_trace(go.Scatter(x=x, y=y, mode="lines",
                                 line=dict(color=col, width=2.8, dash=dash, shape="spline", smoothing=0.5),
                                 connectgaps=False, xaxis=axref("x", q), yaxis=axref("y", q), hoverinfo="skip"))

    if JEANS_LGK[i] is not None:
        for yy, ax_n in ((JEANS_LGP[i], m), (JEANS_LGR[i], q)):
            fig.add_trace(go.Scatter(x=[10 ** JEANS_LGK[i]], y=[10 ** yy], mode="markers",
                                     marker=dict(symbol="star", size=15, color=ORANGE,
                                                 line=dict(color="black", width=1.6)),
                                     xaxis=axref("x", ax_n), yaxis=axref("y", ax_n), hoverinfo="skip"))

    # redshift box
    annotations.append(dict(x=px_x(xl + 14), y=px_y(top + MAIN_H - 13.4), xref="paper", yref="paper",
                            xanchor="left", yanchor="bottom", showarrow=False,
                            text=f"<i>z</i> = {REDSHIFTS[i]}", font=dict(size=32, family=FONT),
                            bordercolor="black", borderwidth=2, borderpad=7, bgcolor="white"))

    if c == 0:
        annotations.append(dict(x=px_x(43), y=px_y(top + MAIN_H / 2 + 2), xref="paper", yref="paper",
                                xanchor="center", yanchor="middle", showarrow=False, textangle=-90,
                                text="<i>P</i>(<i>k</i>)  /  <i>h</i><sup>−3</sup> Mpc<sup>3</sup>  (comoving)",
                                font=dict(size=31, family=FONT)))
        yc = rt + RATIO_H / 2
        annotations.append(dict(x=px_x(18), y=px_y(yc), xref="paper", yref="paper",
                                xanchor="center", yanchor="middle", showarrow=False, textangle=-90,
                                text="<i>P</i>(<i>k</i>)", font=dict(size=21, family=FONT)))
        annotations.append(dict(x=px_x(46), y=px_y(yc), xref="paper", yref="paper",
                                xanchor="center", yanchor="middle", showarrow=False, textangle=-90,
                                text="<i>P</i>(<i>k</i>)<sub>CDM</sub>", font=dict(size=21, family=FONT)))
        shapes.append(dict(type="line", xref="paper", yref="paper", x0=px_x(31), x1=px_x(31),
                           y0=px_y(yc - 46), y1=px_y(yc + 46), line=dict(color="black", width=1.2)))

# axis titles
for c in range(2):
    xc = (COL_PX[c][0] + COL_PX[c][1]) / 2
    annotations.append(dict(x=px_x(xc), y=px_y(20), xref="paper", yref="paper", xanchor="center",
                            yanchor="middle", showarrow=False, font=dict(size=32, family=FONT),
                            text="<i>r</i> / <i>h</i><sup>−1</sup> Mpc (comoving)"))
    annotations.append(dict(x=px_x(xc), y=px_y(1574), xref="paper", yref="paper", xanchor="center",
                            yanchor="middle", showarrow=False, font=dict(size=32, family=FONT),
                            text="<i>k</i> / <i>h</i> Mpc<sup>−1</sup> (comoving)"))


# ---------------- legends (drawn manually) ----------------
def rrect(x0, y0, x1, y1, rad):
    p = lambda a, b: f"{px_x(a):.5f},{px_y(b):.5f}"
    return (f"M {p(x0 + rad, y0)} L {p(x1 - rad, y0)} Q {p(x1, y0)} {p(x1, y0 + rad)} "
            f"L {p(x1, y1 - rad)} Q {p(x1, y1)} {p(x1 - rad, y1)} L {p(x0 + rad, y1)} "
            f"Q {p(x0, y1)} {p(x0, y1 - rad)} L {p(x0, y0 + rad)} Q {p(x0, y0)} {p(x0 + rad, y0)} Z")


for box in [(154.7, 97.3, 389.0, 164.0), (396.0, 97.3, 756.0, 282.7)]:
    shapes.append(dict(type="path", xref="paper", yref="paper", path=rrect(*box, 5),
                       fillcolor="rgba(255,255,255,0.85)", line=dict(color="#cccccc", width=1.6),
                       layer="above"))


def leg_text(x, y, txt, size=23):
    annotations.append(dict(x=px_x(x), y=px_y(y), xref="paper", yref="paper", xanchor="left",
                            yanchor="middle", showarrow=False, text=txt,
                            font=dict(size=size, family=FONT, color="black")))


def leg_line(x0, x1, y, col, dash="solid", width=3.0):
    shapes.append(dict(type="line", xref="paper", yref="paper", x0=px_x(x0), x1=px_x(x1),
                       y0=px_y(y), y1=px_y(y), line=dict(color=col, width=width, dash=dash),
                       layer="above"))


annotations.append(dict(x=px_x(182), y=px_y(113), xref="paper", yref="paper", xanchor="center",
                        yanchor="middle", showarrow=False, text="★",
                        font=dict(size=22, family="DejaVu Sans", color="black")))
leg_text(217, 114, "FDM Jeans length", 22)
leg_line(161.7, 202.8, 142, "#a8a8a8", "2px,2px", 1.0)
leg_text(217, 143, "shot noise limit", 22)

LX0, LX1, TX = 404.2, 447.2, 458.5
leg_line(LX0, LX1, 114, GRAY)
leg_text(TX, 114, "linear theory")
leg_line(LX0, LX1, 144, BLUE)
leg_text(TX, 145, "<i>N</i>-body simulation (2048<sup>3</sup>)")
leg_line(LX0, LX1, 191, ORANGE)
leg_text(TX, 176, "SP simulation,", 22)
leg_text(479, 201, "<i>mc</i><sup>2</sup> = 7 × 10<sup>−23</sup> eV (8640<sup>3</sup>)", 22)
leg_line(LX0, LX1, 233, "black")
leg_text(TX, 233, "CDM ICs")
leg_line(LX0, LX1, 263, "black", "11px,5px")
leg_text(TX, 263, "FDM ICs, <i>mc</i><sup>2</sup> = 7 × 10<sup>−23</sup> eV")

layout["annotations"] = annotations
layout["shapes"] = shapes
fig.update_layout(**layout)
fig.write_html("out.html")
